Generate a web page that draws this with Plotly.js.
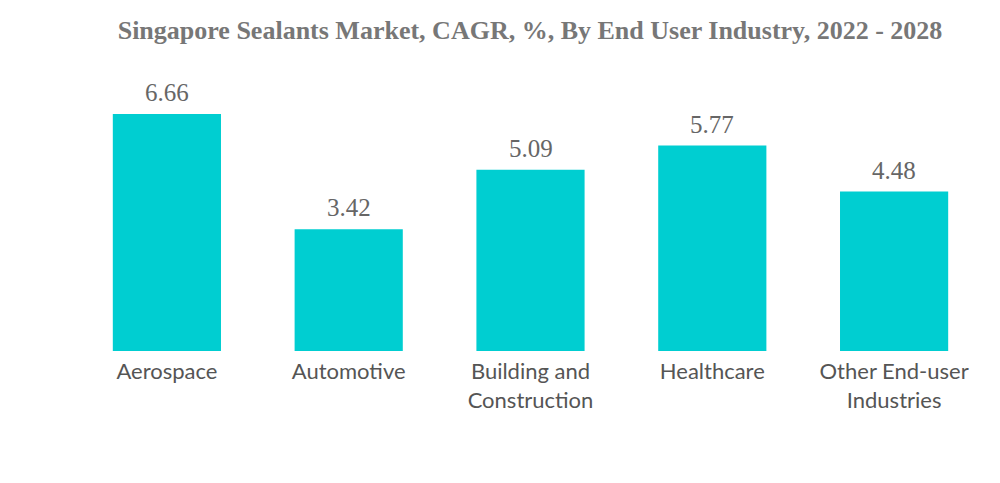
<!DOCTYPE html>
<html><head><meta charset="utf-8">
<script src="https://cdn.plot.ly/plotly-3.0.1.min.js"></script>
<style>html,body{margin:0;padding:0;background:#fff}#chart{width:1000px;height:483px}</style>
</head><body><div id="chart"></div>
<script>
const categories = ["Aerospace", "Automotive", "Building and<br>Construction", "Healthcare", "Other End-user<br>Industries"];
const cagrValues = [6.66, 3.42, 5.09, 5.77, 4.48];
const valueLabels = cagrValues.map(v => v.toFixed(2));

const annotations = categories.map((c, i) => ({
  x: c, y: cagrValues[i], xref: 'x', yref: 'y',
  text: valueLabels[i], showarrow: false,
  yanchor: 'bottom', yshift: 6,
  font: {family: '"Liberation Serif", "Times New Roman", serif', size: 25, color: '#666666'}
}));

Plotly.newPlot('chart', [{
  type: 'bar',
  x: categories,
  y: cagrValues,
  marker: {color: '#00CED1'},
  hoverinfo: 'none'
}], {
  width: 1000, height: 483,
  margin: {l: 76, r: 15, t: 84, b: 132},
  paper_bgcolor: '#fff', plot_bgcolor: '#fff',
  bargap: 0.405,
  annotations: annotations,
  title: {text: '<b>Singapore Sealants Market, CAGR, %, By End User Industry, 2022 - 2028</b>',
    font: {family: '"Liberation Serif", "Times New Roman", serif', size: 26, color: '#777777'},
    x: 0.53, xanchor: 'center', y: 0.938, yanchor: 'middle'},
  xaxis: {showgrid: false, zeroline: false, showline: false, ticks: '', ticklabelstandoff: 5,
    tickfont: {family: 'Lato, "Open Sans", sans-serif', size: 22, color: '#555555'}},
  yaxis: {range: [0, 7.5], visible: false, showgrid: false, zeroline: false},
  showlegend: false
}, {displayModeBar: false, staticPlot: true});
</script></body></html>
